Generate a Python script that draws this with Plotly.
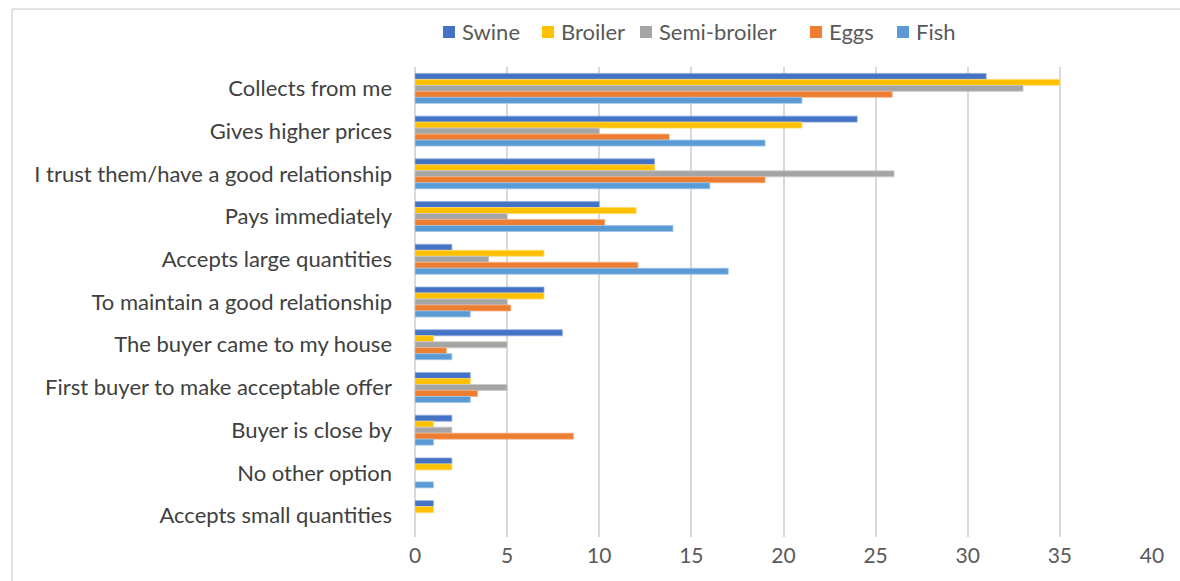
import plotly.graph_objects as go

categories = [
    "Collects from me",
    "Gives higher prices",
    "I trust them/have a good relationship",
    "Pays immediately",
    "Accepts large quantities",
    "To maintain a good relationship",
    "The buyer came to my house",
    "First buyer to make acceptable offer",
    "Buyer is close by",
    "No other option",
    "Accepts small quantities",
]

swine = [31, 24, 13, 10, 2, 7, 8, 3, 2, 2, 1]
broiler = [35, 21, 13, 12, 7, 7, 1, 3, 1, 2, 1]
semi_broiler = [33, 10, 26, 5, 4, 5, 5, 5, 2, None, None]
eggs = [25.9, 13.8, 19, 10.3, 12.1, 5.2, 1.7, 3.4, 8.6, None, None]
fish = [21, 19, 16, 14, 17, 3, 2, 3, 1, 1, None]

series_names = ["Swine", "Broiler", "Semi-broiler", "Eggs", "Fish"]
series_values = [swine, broiler, semi_broiler, eggs, fish]
colors = ["#4472C4", "#FFC000", "#A5A5A5", "#ED7D31", "#5B9BD5"]
outline = ["#8FAADC", "#FFD966", "#C9C9C9", "#F4B183", "#9DC3E6"]

x_ticks = [0, 5, 10, 15, 20, 25, 30, 35, 40]

OFF = 0
W, H = 1180 - OFF, 581 - OFF
L = 415 - OFF
T = 67 - OFF
R = W - (1152 - OFF)
B = H - (537 - OFF)
pw, ph = W - L - R, H - T - B


def px_x(p):
    return (p - OFF - L) / pw


def px_y(p):
    return (H - B - (p - OFF)) / ph


fig = go.Figure()
for name, vals, c, oc in zip(series_names, series_values, colors, outline):
    fig.add_trace(go.Bar(
        y=categories, x=vals, name=name, orientation="h",
        marker=dict(color=c, line=dict(color=oc, width=0.8)),
        showlegend=False,
    ))

frame = dict(color="#D9D9D9", width=1.5)
shapes = [
    dict(type="line", xref="paper", yref="paper", layer="below",
         x0=px_x(12), x1=px_x(1250), y0=px_y(9), y1=px_y(9), line=frame),
    dict(type="line", xref="paper", yref="paper", layer="below",
         x0=px_x(12), x1=px_x(12), y0=px_y(9), y1=px_y(640), line=frame),
]

# manual legend (Excel-style: square swatch close to label)
legend_swatch_left = [443, 542, 640, 810, 897]
legend_y = 32
sw = 12
annotations = []
for name, c, xl in zip(series_names, colors, legend_swatch_left):
    shapes.append(dict(
        type="rect", xref="paper", yref="paper",
        x0=px_x(xl), x1=px_x(xl + sw), y0=px_y(legend_y + sw / 2), y1=px_y(legend_y - sw / 2),
        line=dict(width=0), fillcolor=c,
    ))
    annotations.append(dict(
        xref="paper", yref="paper", x=px_x(xl + sw + 5), y=px_y(legend_y),
        xanchor="left", yanchor="middle", text=name, showarrow=False,
        font=dict(size=22, color="#595959"),
    ))

fig.update_layout(
    width=W, height=H,
    margin=dict(l=L, r=R, t=T, b=B),
    paper_bgcolor="white", plot_bgcolor="white",
    barmode="group", bargap=0.3, bargroupgap=0,
    font=dict(family="Lato, Carlito, sans-serif", size=21, color="#595959"),
    showlegend=False,
    xaxis=dict(
        range=[0, 40], tickvals=x_ticks, showgrid=True, gridcolor="#D9D9D9", gridwidth=2,
        zeroline=True, zerolinecolor="#D9D9D9", zerolinewidth=2,
        tickfont=dict(size=21, color="#595959"), ticks="", ticklabelstandoff=4,
        fixedrange=True,
    ),
    yaxis=dict(
        autorange="reversed", categoryorder="array", categoryarray=categories,
        tickfont=dict(size=22, color="#404040"), ticks="", ticklabelstandoff=22,
        showgrid=False, zeroline=False,
    ),
    shapes=shapes,
    annotations=annotations,
)

fig.write_html(
    "out.html",
    config={"displayModeBar": False},
    post_script=(
        "document.documentElement.style.overflow='hidden';"
        "document.body.style.overflow='hidden';"
        "document.body.style.margin='0';"
    ),
)
